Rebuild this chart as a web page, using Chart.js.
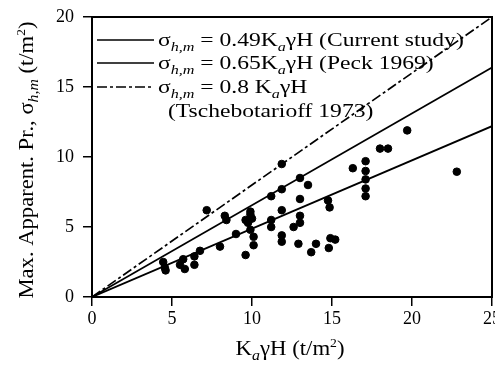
<!DOCTYPE html>
<html>
<head>
<meta charset="utf-8">
<script src="https://cdn.jsdelivr.net/npm/chart.js@4.4.1/dist/chart.umd.min.js"></script>
<style>
  html, body { margin: 0; padding: 0; background: #fff; }
  #wrap { width: 495px; height: 376px; }
</style>
</head>
<body>
<div id="wrap"><canvas id="chart" width="495" height="376"></canvas></div>
<script>
// axis ticks
const xTicks = [0, 5, 10, 15, 20, 25];
const yTicks = [0, 5, 10, 15, 20];

// measured points (K_a gamma H, sigma_h,m)
const pointsX = [4.45, 4.55, 4.6, 5.5, 5.7, 5.8, 6.4, 6.4, 6.75, 7.17,
                 8.0, 8.3, 8.4, 9.0, 9.6, 9.6, 9.75, 9.9, 9.9, 9.9,
                 10.0, 10.1, 10.1, 11.2, 11.2, 11.2, 11.86, 11.86, 11.86, 11.86,
                 11.86, 12.6, 12.9, 13.0, 13.0, 13.0, 13.0, 13.5, 13.7, 14.0,
                 14.75, 14.85, 14.8, 14.9, 15.2, 16.3, 17.1, 17.1, 17.1, 17.1,
                 17.1, 18.0, 18.5, 19.7, 22.8];
const pointsY = [2.5, 2.1, 1.9, 2.3, 2.7, 2.0, 2.3, 2.9, 3.3, 6.2,
                 3.6, 5.8, 5.5, 4.5, 3.0, 5.5, 5.3, 5.9, 6.1, 4.8,
                 5.6, 4.3, 3.7, 7.2, 5.5, 5.0, 9.5, 7.7, 6.2, 4.4,
                 3.95, 5.0, 3.8, 8.5, 7.0, 5.8, 5.3, 8.0, 3.2, 3.8,
                 6.9, 6.4, 3.5, 4.2, 4.1, 9.2, 9.7, 9.0, 8.4, 7.75,
                 7.2, 10.6, 10.6, 11.9, 8.95];

// design lines, end points
const lineX = [0, 25];
const currentY = [0, 12.2];
const peckY = [0, 16.4];
const tschY = [0, 20];

const serif = "'Liberation Serif', 'DejaVu Serif', serif";

function toXY(xs, ys) {
    return xs.map((x, i) => ({ x: x, y: ys[i] }));
}

// text made of pieces: [text, kind], kind = '', 'sub' or 'sup'
function fontFor(kind, size) {
    if (kind === 'sub') return 'italic ' + Math.round(size * 0.7) + 'px ' + serif;
    if (kind === 'sup') return Math.round(size * 0.62) + 'px ' + serif;
    return size + 'px ' + serif;
}
function richWidth(ctx, parts, size) {
    let w = 0;
    parts.forEach(p => {
        ctx.font = fontFor(p[1], size);
        w += ctx.measureText(p[0]).width;
    });
    return w;
}
// stretch: horizontal widening, the scanned original text runs wide
function drawRich(ctx, parts, x, y, size, stretch) {
    ctx.save();
    ctx.translate(x, y);
    ctx.scale(stretch, 1);
    ctx.textBaseline = 'alphabetic';
    ctx.textAlign = 'left';
    let cx = 0;
    parts.forEach(p => {
        ctx.font = fontFor(p[1], size);
        let dy = 0;
        if (p[1] === 'sub') dy = size * 0.25;
        if (p[1] === 'sup') dy = -size * 0.42;
        ctx.fillText(p[0], cx, dy);
        cx += ctx.measureText(p[0]).width;
    });
    ctx.restore();
}

const legendRows = [
    { dash: [], parts: [['σ', ''], ['h,m', 'sub'], [' = 0.49K', ''], ['a', 'sub'], ['γH (Current study)', '']] },
    { dash: [], parts: [['σ', ''], ['h,m', 'sub'], [' = 0.65K', ''], ['a', 'sub'], ['γH (Peck 1969)', '']] },
    { dash: [10, 3, 3, 3], parts: [['σ', ''], ['h,m', 'sub'], [' = 0.8 K', ''], ['a', 'sub'], ['γH', '']] }
];

const extrasPlugin = {
    id: 'extras',
    afterDraw(chart) {
        const ctx = chart.ctx;
        const a = chart.chartArea;
        ctx.save();
        // frame
        ctx.strokeStyle = '#000';
        ctx.lineWidth = 2;
        ctx.strokeRect(a.left, a.top, a.right - a.left, a.bottom - a.top);

        // legend
        ctx.fillStyle = '#000';
        const rowY = [46, 69, 93];
        legendRows.forEach((r, i) => {
            ctx.beginPath();
            ctx.setLineDash(r.dash);
            ctx.lineWidth = 1.6;
            ctx.moveTo(a.left + 5, rowY[i] - 6);
            ctx.lineTo(a.left + 62, rowY[i] - 6);
            ctx.stroke();
            ctx.setLineDash([]);
            drawRich(ctx, r.parts, a.left + 66, rowY[i], 19, 1.24);
        });
        drawRich(ctx, [['(Tschebotarioff 1973)', '']], a.left + 76, 117, 19, 1.24);

        // x title
        const xt = [['K', ''], ['a', 'sub'], ['γH (t/m', ''], ['2', 'sup'], [')', '']];
        const xs = 1.14;
        const xw = richWidth(ctx, xt, 20) * xs;
        drawRich(ctx, xt, 290 - xw / 2, 355, 20, xs);

        // y title
        const yt = [['Max. Apparent. Pr., σ', ''], ['h,m', 'sub'], [' (t/m', ''], ['2', 'sup'], [')', '']];
        const ys = 1.13;
        const yw = richWidth(ctx, yt, 20) * ys;
        ctx.translate(33, 160);
        ctx.rotate(-Math.PI / 2);
        drawRich(ctx, yt, -yw / 2, 0, 20, ys);
        ctx.restore();
    }
};

const ctx = document.getElementById('chart').getContext('2d');
const chart = new Chart(ctx, {
    type: 'scatter',
    data: {
        datasets: [
            {
                label: 'Data',
                data: toXY(pointsX, pointsY),
                backgroundColor: '#000',
                borderColor: '#000',
                pointRadius: 3.8,
                pointHoverRadius: 3.8
            },
            {
                type: 'line',
                label: 'Current study',
                data: toXY(lineX, currentY),
                borderColor: '#000',
                borderWidth: 1.8,
                pointRadius: 0,
                fill: false
            },
            {
                type: 'line',
                label: 'Peck 1969',
                data: toXY(lineX, peckY),
                borderColor: '#000',
                borderWidth: 1.7,
                pointRadius: 0,
                fill: false
            },
            {
                type: 'line',
                label: 'Tschebotarioff 1973',
                data: toXY(lineX, tschY),
                borderColor: '#000',
                borderWidth: 1.7,
                borderDash: [10, 3, 3, 3],
                pointRadius: 0,
                fill: false
            }
        ]
    },
    options: {
        responsive: false,
        animation: false,
        layout: {
            autoPadding: false,
            padding: { top: 17, right: 3, left: 0, bottom: 0 }
        },
        plugins: {
            legend: { display: false },
            tooltip: { enabled: false }
        },
        scales: {
            x: {
                type: 'linear',
                min: 0,
                max: 25,
                afterBuildTicks: s => { s.ticks = xTicks.map(v => ({ value: v })); },
                afterFit: s => { s.height = 79; s.paddingLeft = 0; s.paddingRight = 0; },
                ticks: {
                    color: '#000',
                    font: { family: serif, size: 18 },
                    padding: 2,
                    maxRotation: 0
                },
                grid: { drawOnChartArea: false, tickLength: 9, color: '#000', lineWidth: 1.5 },
                border: { color: '#000', width: 2 }
            },
            y: {
                type: 'linear',
                min: 0,
                max: 20,
                afterBuildTicks: s => { s.ticks = yTicks.map(v => ({ value: v })); },
                afterFit: s => { s.width = 92; s.paddingTop = 0; s.paddingBottom = 0; },
                ticks: {
                    color: '#000',
                    font: { family: serif, size: 18 },
                    padding: 9
                },
                grid: { drawOnChartArea: false, tickLength: 9, color: '#000', lineWidth: 1.5 },
                border: { color: '#000', width: 2 }
            }
        }
    },
    plugins: [extrasPlugin]
});
</script>
</body>
</html>
